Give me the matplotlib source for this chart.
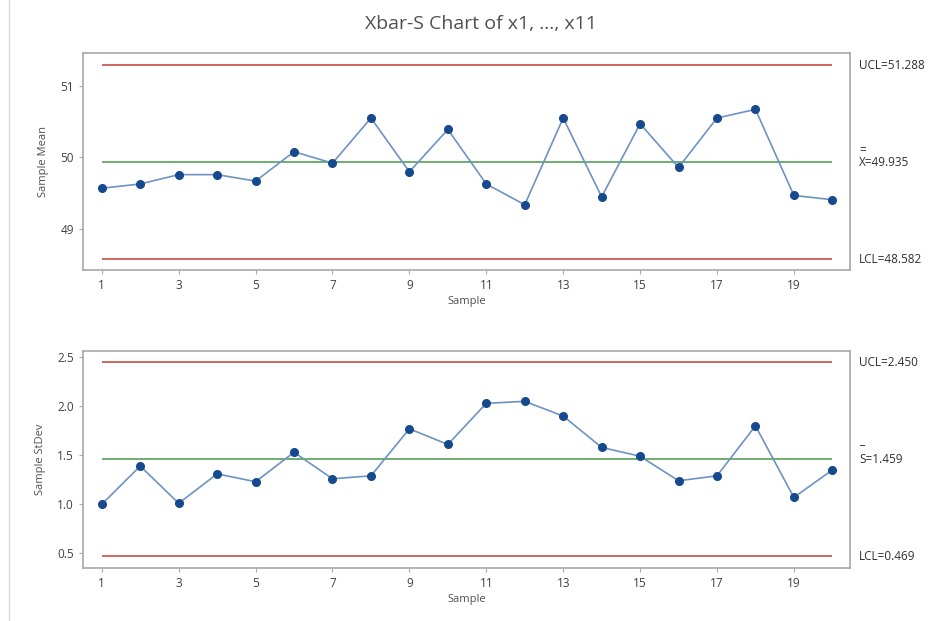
import numpy as np
import matplotlib
matplotlib.use('Agg')
import matplotlib.pyplot as plt
from matplotlib.transforms import offset_copy

plt.rcParams['font.family'] = ['Open Sans', 'DejaVu Sans']

samples = np.arange(1, 21)
xbar = [49.57, 49.63, 49.76, 49.76, 49.67, 50.08, 49.92, 50.55, 49.80, 50.39,
        49.63, 49.34, 50.55, 49.45, 50.47, 49.86, 50.55, 50.67, 49.47, 49.41]
sdev = [1.00, 1.39, 1.01, 1.31, 1.23, 1.53, 1.26, 1.29, 1.77, 1.61,
        2.03, 2.05, 1.90, 1.58, 1.49, 1.24, 1.29, 1.80, 1.07, 1.35]

xbar_ucl, xbar_cl, xbar_lcl = 51.288, 49.935, 48.582
s_ucl, s_cl, s_lcl = 2.450, 1.459, 0.469

xbar_ticks = [49, 50, 51]
s_ticks = [0.5, 1.0, 1.5, 2.0, 2.5]
x_ticks = list(range(1, 21, 2))

red = '#cc5a52'
green = '#62a862'
linec = '#6c93c2'
markc = '#17498f'
frame = '#a8a8a8'
txt = '#404040'

fig = plt.figure(figsize=(9.47, 6.21), dpi=100)
ax1 = fig.add_axes([0.0876, 0.5652, 0.81, 0.3494])
ax2 = fig.add_axes([0.0876, 0.0849, 0.81, 0.3504])


def draw(ax, vals, ucl, cl, lcl, ylim, yticks, ylabel, labels, bar, bar_va, bar_dy):
    ax.hlines([ucl, lcl], 1, 20, color=red, lw=1.3)
    ax.hlines(cl, 1, 20, color=green, lw=1.3)
    ax.plot(samples, vals, color=linec, lw=1.2, marker='o', ms=5.5,
            mfc=markc, mec=markc, zorder=3)
    ax.set_xlim(0.51, 20.46)
    ax.set_ylim(*ylim)
    ax.set_xticks(x_ticks)
    ax.set_yticks(yticks)
    for sp in ax.spines.values():
        sp.set_color(frame)
        sp.set_linewidth(1.2)
    ax.tick_params(colors=frame, labelcolor=txt, labelsize=8.5, length=3)
    ax.set_xlabel('Sample', fontsize=8, color='#505050', labelpad=3)
    ax.set_ylabel(ylabel, fontsize=8, color='#505050', labelpad=8)
    tr = ax.get_yaxis_transform()
    for y, s in labels:
        ax.text(1.012, y, s, transform=tr, fontsize=8.5, color='#303030',
                va='center', ha='left')
    # bar sign above the centre line label
    ax.text(1.012, cl, bar, fontsize=8.5, color='#303030', va=bar_va,
            ha='left', transform=offset_copy(tr, fig=fig, y=bar_dy, units='dots'))


draw(ax1, xbar, xbar_ucl, xbar_cl, xbar_lcl, (48.43, 51.456), xbar_ticks,
     'Sample Mean',
     [(xbar_ucl, 'UCL=51.288'), (xbar_cl, 'X=49.935'),
      (xbar_lcl, 'LCL=48.582')], '=', 'center', 12)
ax1.set_yticklabels(['49', '50', '51'])
draw(ax2, sdev, s_ucl, s_cl, s_lcl, (0.347, 2.567), s_ticks,
     'Sample StDev',
     [(s_ucl, 'UCL=2.450'), (s_cl, 'S=1.459'),
      (s_lcl, 'LCL=0.469')], '_', 'baseline', 15)

fig.text(0.508, 0.962, 'Xbar-S Chart of x1, ..., x11', ha='center',
         va='center', fontsize=14, color='#505050')
fig.add_artist(plt.Line2D([0.009, 0.009], [0, 1], color='#d8d8d8', lw=1))

fig.savefig('out.png', dpi=100)
